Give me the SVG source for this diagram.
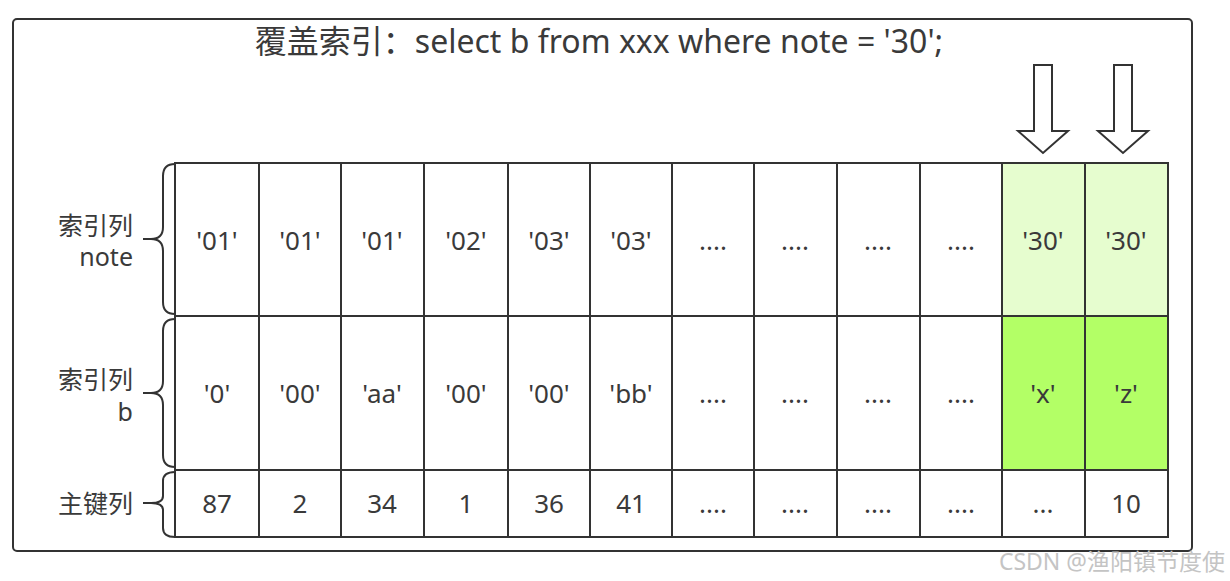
<svg xmlns="http://www.w3.org/2000/svg" width="1230" height="581" viewBox="0 0 1230 581">
<style>
.frame{fill:#fff;stroke:#333;stroke-width:2}
.lg{fill:#e6fdcf}
.dg{fill:#b3ff66}
.t{font-family:"Noto Sans","Noto Sans CJK SC",sans-serif;font-size:26px;fill:#3a3a3a;text-anchor:middle;dominant-baseline:central}
.lbl{font-family:"Noto Sans","Noto Sans CJK SC",sans-serif;font-size:25px;fill:#3a3a3a;text-anchor:end;dominant-baseline:central}
.brace{fill:none;stroke:#333;stroke-width:2}
.arrow{fill:#fff;stroke:#333;stroke-width:2}
</style>
<rect width="1230" height="581" fill="#fff"/>
<rect class="frame" x="13" y="19" width="1179" height="532" rx="4"/>
<text x="599" y="40" class="t" style="font-size:32px">覆盖索引：select b from xxx where note = '30';</text>

<g id="arrows">
<path class="arrow" d="M1034,65 H1052 V131 H1068 L1043,153 L1018,131 H1034 Z"/>
<path class="arrow" d="M1114,65 H1132 V131 H1148 L1123,153 L1098,131 H1114 Z"/>
</g>

<g id="labels">
<text class="lbl" x="133" y="225">索引列<tspan x="133" dy="31">note</tspan></text>
<text class="lbl" x="133" y="379">索引列<tspan x="133" dy="32">b</tspan></text>
<text class="lbl" x="133" y="503">主键列</text>
</g>

<g id="connectors">
<path class="brace" d="M175,164 Q163,164 163,176 V227 Q163,239 151,239 H143 M151,239 Q163,239 163,251 V302 Q163,314 175,314"/>
<path class="brace" d="M175,319 Q163,319 163,331 V381 Q163,393 151,393 H143 M151,393 Q163,393 163,405 V455 Q163,467 175,467"/>
<path class="brace" d="M175,472 Q163,472 163,481 V496 Q163,503 151,503 H143 M151,503 Q163,503 163,510 V528 Q163,537 175,537"/>
</g>

<g id="table">
<rect x="1002" y="163" width="166" height="153" class="lg"/>
<rect x="1002" y="316" width="166" height="154" class="dg"/>
<g fill="none" stroke="#333" stroke-width="2">
<rect x="175" y="163" width="993" height="374"/>
<path d="M175,316 H1168 M175,470 H1168"/>
<path d="M259,163 V537 M341,163 V537 M424,163 V537 M508,163 V537 M590,163 V537 M672,163 V537 M754,163 V537 M837,163 V537 M920,163 V537 M1002,163 V537 M1085,163 V537"/>
</g>
</g>

<g id="row1">
<text class="t" x="217" y="240">'01'</text>
<text class="t" x="300" y="240">'01'</text>
<text class="t" x="382" y="240">'01'</text>
<text class="t" x="466" y="240">'02'</text>
<text class="t" x="549" y="240">'03'</text>
<text class="t" x="631" y="240">'03'</text>
<text class="t" x="713" y="240">....</text>
<text class="t" x="795" y="240">....</text>
<text class="t" x="878" y="240">....</text>
<text class="t" x="961" y="240">....</text>
<text class="t" x="1043" y="240">'30'</text>
<text class="t" x="1126" y="240">'30'</text>
</g>
<g id="row2">
<text class="t" x="217" y="393">'0'</text>
<text class="t" x="300" y="393">'00'</text>
<text class="t" x="382" y="393">'aa'</text>
<text class="t" x="466" y="393">'00'</text>
<text class="t" x="549" y="393">'00'</text>
<text class="t" x="631" y="393">'bb'</text>
<text class="t" x="713" y="393">....</text>
<text class="t" x="795" y="393">....</text>
<text class="t" x="878" y="393">....</text>
<text class="t" x="961" y="393">....</text>
<text class="t" x="1043" y="393">'x'</text>
<text class="t" x="1126" y="393">'z'</text>
</g>
<g id="row3">
<text class="t" x="217" y="503">87</text>
<text class="t" x="300" y="503">2</text>
<text class="t" x="382" y="503">34</text>
<text class="t" x="466" y="503">1</text>
<text class="t" x="549" y="503">36</text>
<text class="t" x="631" y="503">41</text>
<text class="t" x="713" y="503">....</text>
<text class="t" x="795" y="503">....</text>
<text class="t" x="878" y="503">....</text>
<text class="t" x="961" y="503">....</text>
<text class="t" x="1043" y="503">...</text>
<text class="t" x="1126" y="503">10</text>
</g>
<text x="1225" y="561" style="font-family:'Noto Sans','Noto Sans CJK SC',sans-serif;font-size:23px;fill:#c4c4c4;text-anchor:end;dominant-baseline:central">CSDN @渔阳镇节度使</text>
</svg>
